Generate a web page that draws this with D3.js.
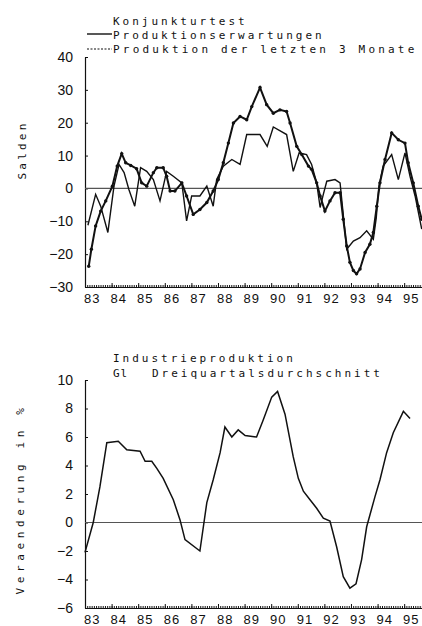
<!DOCTYPE html>
<html>
<head>
<meta charset="utf-8">
<script src="https://cdn.jsdelivr.net/npm/d3@7"></script>
<style>
  body { margin: 0; background: #fff; }
  svg { display: block; }
  text { font-family: "DejaVu Sans", sans-serif; fill: #111; }
  .tick line, .domain { stroke: #111; }
  .plotter { font-family: "DejaVu Sans Mono", monospace; font-size: 11px; letter-spacing: 3px; }
</style>
</head>
<body>
<svg></svg>
<script>
// Konjunkturtest: [year, saldo]
const erwartungen = [
  [1983.36, -11.2], [1983.65, -1.8], [1983.84, -5.4], [1984.11, -13.4], [1984.34, 0.7],
  [1984.53, 7.3], [1984.72, 4.8], [1984.90, -0.3], [1985.12, -5.4], [1985.34, 6.3],
  [1985.57, 5.2], [1985.82, 2.7], [1986.07, -3.8], [1986.32, 5.2], [1986.57, 3.7],
  [1986.89, 1.7], [1987.07, -9.9], [1987.26, -2.3], [1987.57, -2.3], [1987.83, 0.7],
  [1988.07, -5.4], [1988.20, 2.7], [1988.45, 6.8], [1988.77, 8.8], [1989.08, 7.3],
  [1989.33, 16.4], [1989.83, 16.4], [1990.10, 12.8], [1990.33, 18.7], [1990.83, 16.4],
  [1991.08, 5.2], [1991.30, 10.8], [1991.58, 10.3], [1991.77, 7.3], [1991.96, 1.7],
  [1992.09, -5.8], [1992.21, -1.8], [1992.34, 2.2], [1992.65, 2.7], [1992.84, 1.7],
  [1993.09, -18.5], [1993.34, -16.0], [1993.59, -15.0], [1993.84, -12.9], [1994.09, -15.5],
  [1994.20, -9.0], [1994.30, 0.7], [1994.46, 6.8], [1994.78, 10.3], [1995.03, 2.7],
  [1995.28, 10.8], [1995.47, 3.7], [1995.66, -2.3], [1995.91, -12.4]
];

const letzte3Monate = [
  [1983.39, -23.7], [1983.49, -18.5], [1983.65, -11.4], [1983.84, -6.9], [1984.03, -3.8],
  [1984.28, 0.7], [1984.46, 6.8], [1984.63, 10.6], [1984.78, 7.8], [1984.97, 7.0],
  [1985.19, 6.0], [1985.38, 1.7], [1985.57, 0.7], [1985.82, 4.8], [1985.95, 6.3],
  [1986.19, 6.3], [1986.32, 3.7], [1986.45, -0.8], [1986.63, -0.8], [1986.89, 1.7],
  [1987.07, -2.3], [1987.32, -7.9], [1987.57, -6.4], [1987.83, -4.3], [1988.07, -0.8],
  [1988.26, 2.7], [1988.45, 7.8], [1988.64, 13.8], [1988.83, 19.9], [1989.08, 21.9],
  [1989.33, 20.9], [1989.52, 24.9], [1989.83, 30.7], [1990.08, 25.5], [1990.33, 22.9],
  [1990.58, 23.9], [1990.83, 23.4], [1990.96, 19.9], [1991.21, 12.8], [1991.40, 10.3],
  [1991.65, 6.8], [1991.77, 5.8], [1991.96, 1.7], [1992.09, -2.3], [1992.27, -6.9],
  [1992.46, -3.8], [1992.65, -1.3], [1992.84, -1.3], [1992.96, -9.4], [1993.09, -17.5],
  [1993.21, -22.5], [1993.34, -25.0], [1993.46, -26.0], [1993.59, -24.5], [1993.78, -19.5],
  [1993.96, -17.0], [1994.09, -13.4], [1994.22, -5.4], [1994.34, 1.7], [1994.53, 8.8],
  [1994.78, 16.9], [1995.03, 14.8], [1995.28, 13.8], [1995.40, 7.8], [1995.59, 1.7],
  [1995.78, -5.4], [1995.91, -9.4]
];

// Industrieproduktion, gleitender Dreiquartalsdurchschnitt: [year, % change]
const industrie = [
  [1983.25, -2.1], [1983.56, 0.0], [1983.81, 2.5], [1984.07, 5.6], [1984.50, 5.7],
  [1984.82, 5.1], [1985.32, 5.0], [1985.51, 4.3], [1985.76, 4.3], [1985.95, 3.8],
  [1986.19, 3.1], [1986.57, 1.6], [1986.82, 0.2], [1987.01, -1.2], [1987.57, -2.0],
  [1987.83, 1.4], [1988.07, 3.0], [1988.33, 4.9], [1988.51, 6.7], [1988.77, 6.0],
  [1989.01, 6.5], [1989.27, 6.1], [1989.70, 6.0], [1989.95, 7.2], [1990.27, 8.8],
  [1990.49, 9.2], [1990.77, 7.6], [1991.08, 4.6], [1991.27, 3.1], [1991.46, 2.2],
  [1991.71, 1.6], [1991.96, 1.0], [1992.21, 0.3], [1992.46, 0.1], [1992.71, -1.7],
  [1992.96, -3.8], [1993.21, -4.6], [1993.44, -4.3], [1993.65, -2.6], [1993.84, -0.3],
  [1994.15, 1.8], [1994.34, 3.0], [1994.59, 4.9], [1994.84, 6.3], [1995.22, 7.8],
  [1995.47, 7.3]
];

const years = d3.range(1983, 1996);
const topTicks = [-30, -20, -10, 0, 10, 20, 30, 40];
const bottomTicks = [-6, -4, -2, 0, 2, 4, 6, 8, 10];

const width = 422, height = 626;
const svg = d3.select('svg').attr('width', width).attr('height', height);

const x = d3.scaleLinear().domain([1983.25, 1995.92]).range([85, 422]);
const months = d3.range(1983.25, 1995.92, 1 / 12);

const drawPanel = (yScale, ticks, yLabel, labelPos) => {
  const yBottom = yScale.range()[0];
  const g = svg.append('g');

  // left axis, ticks pointing inwards
  g.append('g')
    .attr('transform', 'translate(85,0)')
    .call(d3.axisLeft(yScale).tickValues(ticks).tickSize(-3).tickPadding(12).tickSizeOuter(0))
    .call(a => a.selectAll('text')
      .style('font-family', '"Liberation Sans", sans-serif').style('font-size', '14px'))
    .call(a => a.select('.domain').attr('stroke-width', 1.2));

  // bottom axis with small monthly marks
  g.append('g')
    .attr('transform', `translate(0,${yBottom})`)
    .call(d3.axisBottom(x).tickValues(months).tickSize(-2).tickSizeOuter(0).tickFormat(''))
    .call(a => a.select('.domain').attr('stroke-width', 1.2));
  g.append('g')
    .attr('transform', `translate(0,${yBottom})`)
    .call(d3.axisBottom(x).tickValues(years.map(d => d + 0.25)).tickSize(-4).tickFormat(''))
    .call(a => a.select('.domain').remove());
  g.append('g')
    .attr('transform', `translate(0,${yBottom})`)
    .call(d3.axisBottom(x).tickValues(years.map(d => d + 0.5)).tickSize(0).tickPadding(7)
      .tickFormat(d => String(Math.floor(d)).slice(2)))
    .call(a => a.select('.domain').remove())
    .call(a => a.selectAll('text')
      .style('font-family', '"Liberation Sans", sans-serif').style('font-size', '13px')
      .style('letter-spacing', '1px'));

  // zero line
  g.append('line')
    .attr('x1', x.range()[0]).attr('x2', x.range()[1])
    .attr('y1', yScale(0)).attr('y2', yScale(0))
    .attr('stroke', '#555').attr('stroke-width', 1.2);

  g.append('text')
    .attr('class', 'plotter')
    .attr('transform', `translate(${labelPos[0]},${labelPos[1]}) rotate(-90)`)
    .attr('text-anchor', 'middle')
    .style('letter-spacing', labelPos[2] + 'px')
    .text(yLabel);
  return g;
};

const line = yScale => d3.line().x(d => x(d[0])).y(d => yScale(d[1]));

// ---- top panel
const ySalden = d3.scaleLinear().domain([-30, 40]).range([287, 57]);
const upper = drawPanel(ySalden, topTicks, 'Salden', [26, 150, 3.2]);

upper.append('path')
  .datum(erwartungen)
  .attr('d', line(ySalden))
  .attr('fill', 'none').attr('stroke', '#111').attr('stroke-width', 1.4);

upper.append('path')
  .datum(letzte3Monate)
  .attr('d', line(ySalden))
  .attr('fill', 'none').attr('stroke', '#111').attr('stroke-width', 2);
upper.selectAll('.dot').data(letzte3Monate).enter()
  .append('circle')
  .attr('class', 'dot')
  .attr('cx', d => x(d[0])).attr('cy', d => ySalden(d[1]))
  .attr('r', 1.7).attr('fill', '#111');

const title = (txt, xPos, yPos, spacing = 3) => svg.append('text')
  .attr('class', 'plotter')
  .attr('x', xPos).attr('y', yPos)
  .style('letter-spacing', spacing + 'px')
  .text(txt);

title('Konjunkturtest', 113, 25);
title('Produktionserwartungen', 113, 39);
title('Produktion der letzten 3 Monate', 113, 53, 3.2);

svg.append('line')
  .attr('x1', 87).attr('x2', 112).attr('y1', 34).attr('y2', 34)
  .attr('stroke', '#111').attr('stroke-width', 1.4);
svg.append('line')
  .attr('x1', 87).attr('x2', 112).attr('y1', 49).attr('y2', 49)
  .attr('stroke', '#111').attr('stroke-width', 1.2).attr('stroke-dasharray', '2,1.5');

// ---- bottom panel
const yVeraend = d3.scaleLinear().domain([-6, 10]).range([608, 380]);
const lower = drawPanel(yVeraend, bottomTicks, 'Veraenderung in %', [24, 499, 4.6]);

lower.append('path')
  .datum(industrie)
  .attr('d', line(yVeraend))
  .attr('fill', 'none').attr('stroke', '#111').attr('stroke-width', 1.5);

title('Industrieproduktion', 113, 362);
title('Gl', 113, 377, 1);
title('Dreiquartalsdurchschnitt', 152, 377);
</script>
</body>
</html>
